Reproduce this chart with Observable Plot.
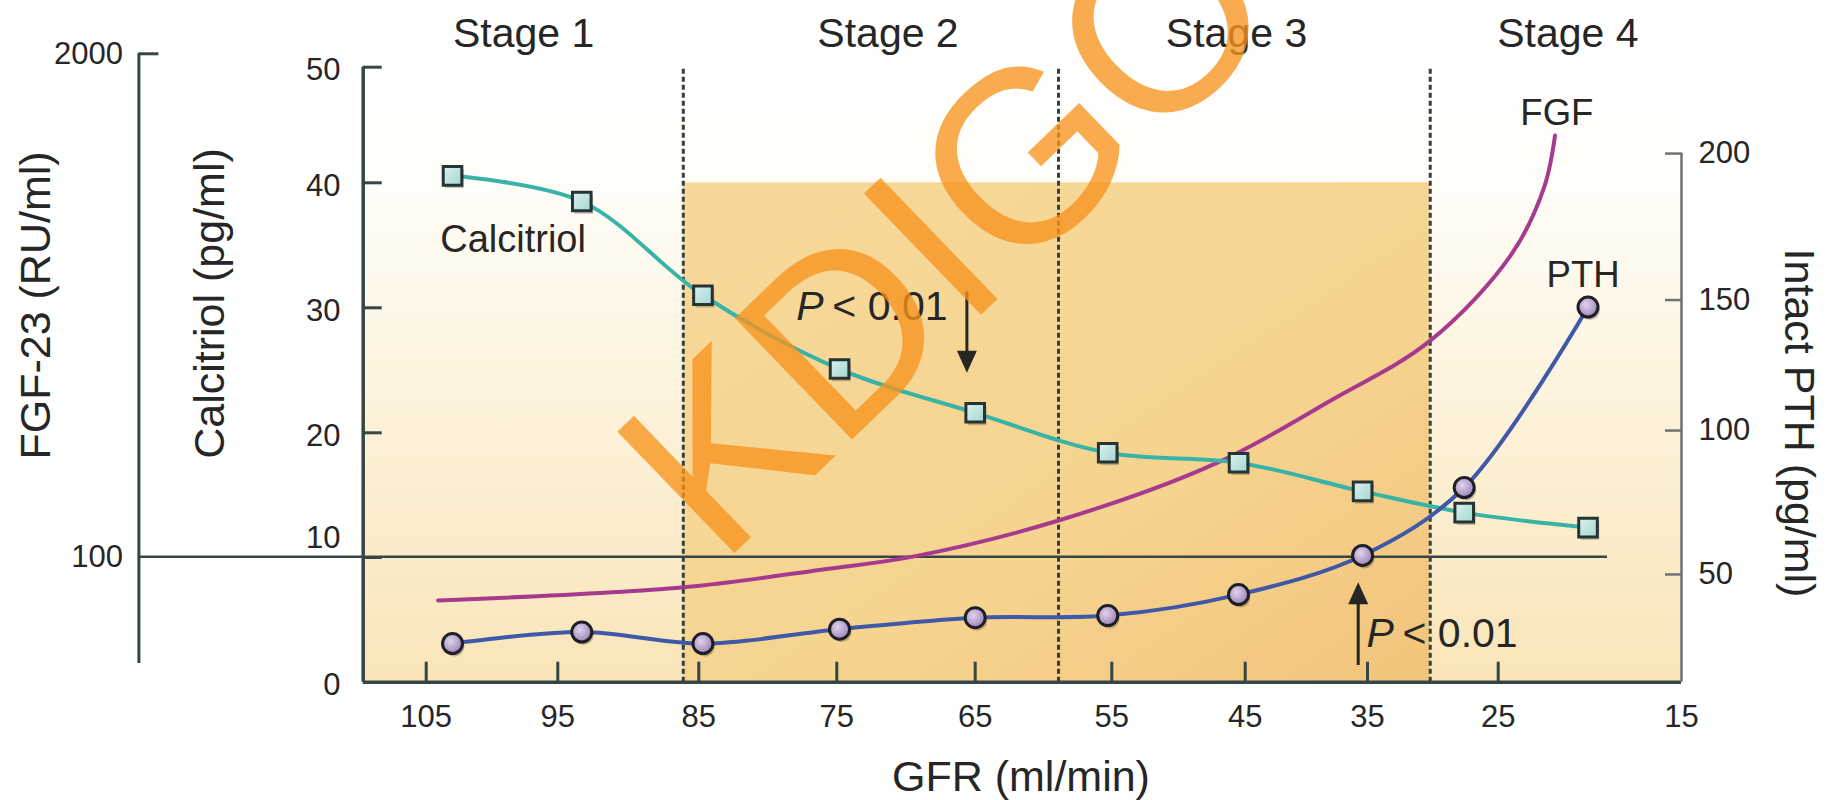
<!DOCTYPE html>
<html>
<head>
<meta charset="utf-8">
<script src="https://cdn.jsdelivr.net/npm/d3@7"></script>
<script src="https://cdn.jsdelivr.net/npm/@observablehq/plot@0.6"></script>
<style>
  html, body { margin: 0; padding: 0; background: #fff; }
  #chart svg { display: block; }
</style>
</head>
<body>
<div id="chart"></div>
<script>
// GFR (ml/min) at which calcitriol and intact PTH were measured
const gfr = [103, 93.3, 84.7, 74.8, 65, 55.3, 45.5, 35.4, 27.6, 20.1];
// Calcitriol (pg/ml)
const calcitriol = [40.6, 38.5, 31, 25.1, 21.6, 18.4, 17.6, 15.3, 13.6, 12.4];
// Intact PTH (pg/ml)
const pth = [26, 30, 26, 31, 35, 35.7, 43, 56.6, 80.2, 147.3];
// FGF-23 trend (RU/ml) along GFR
const fgfGfr = [104.1, 86.1, 76, 69.5, 58.9, 47.2, 38, 30.2, 24.3, 22.5, 21.9];
const fgf = [77.4, 83.6, 92.8, 100, 123.5, 172.5, 249, 353, 582, 862, 1195];

// CKD stages
const stageLabels = ["Stage 1", "Stage 2", "Stage 3", "Stage 4"];
const stageCenters = [97.6, 71.3, 45.65, 21.2];
const stageBounds = [86.1, 58.9, 30.2];

// Tick values
const gfrTicks = [105, 95, 85, 75, 65, 55, 45, 35, 25, 15];
const calcitriolTicks = [0, 10, 20, 30, 40, 50];
const pthTicks = [50, 100, 150, 200];
const fgfTicks = [100, 2000];

// Secondary axes expressed in calcitriol units (the shared y scale)
const pthToC = d3.scaleLinear().domain([50, 100, 150, 200]).range([8.64, 20.18, 30.62, 42.53]);
const fgfToC = d3.scaleLog().domain([100, 2000]).range([10.07, 51.16]);

const calRows = gfr.map((g, i) => ({gfr: g, value: calcitriol[i]}));
const pthRows = gfr.map((g, i) => ({gfr: g, value: pth[i]}));
const fgfRows = fgfGfr.map((g, i) => ({gfr: g, value: fgf[i]}));
const stages = stageLabels.map((label, i) => ({label, gfr: stageCenters[i]}));

const axisColor = "#364545";
const textColor = "#262626";
const fgfAxisOffset = -224.3;

// Filled arrowheads with the tip at the origin
const headDown = {draw(ctx) { ctx.moveTo(0, 0); ctx.lineTo(-10, -22); ctx.lineTo(10, -22); ctx.closePath(); }};
const headUp = {draw(ctx) { ctx.moveTo(0, 0); ctx.lineTo(-10, 22); ctx.lineTo(10, 22); ctx.closePath(); }};

const notes = [{gfr: 77.93, c: 29.0}, {gfr: 35.08, c: 2.81}];
const arrowDown = [{gfr: 65.6, from: 31.26, to: 25.6, tip: 24.8}];
const arrowUp = [{gfr: 35.76, from: 1.34, to: 7.3, tip: 8.02}];

const title = {textAnchor: "middle", lineAnchor: "middle", fontSize: 43, fill: textColor};

const chart = Plot.plot({
  width: 1834,
  height: 800,
  marginTop: 66.7,
  marginBottom: 118.3,
  marginLeft: 362.7,
  marginRight: 153,
  style: {fontFamily: "'Liberation Sans', Arial, Helvetica, sans-serif", fontSize: "31px", color: textColor, background: "#fff"},
  x: {type: "linear", label: null,
      domain: [110, 105, 95, 85, 75, 65, 55, 45, 35, 25, 15],
      range: [362.7, 425.7, 557.3, 698.3, 836.3, 974.7, 1111.3, 1244.7, 1367, 1497.7, 1681]},
  y: {type: "linear", label: null, domain: [0, 20, 40, 50], range: [681.7, 432.3, 182.3, 66.7]},
  marks: [
    // plot-area shading
    Plot.rect([{}], {x1: 110, x2: 15, y1: 0, y2: 51.4, fill: "url(#bgFill)"}),
    Plot.rect([{}], {x1: stageBounds[0], x2: stageBounds[2], y1: 0, y2: 40, fill: "url(#ckdFill)"}),

    // stage boundaries
    Plot.ruleX(stageBounds, {y1: 0, y2: 50, stroke: "#34403f", strokeWidth: 3, strokeDasharray: "5,3"}),

    // FGF-23 = 100 RU/ml reference line
    Plot.ruleY([fgfToC(100)], {x1: 110, x2: 19.04, insetLeft: fgfAxisOffset, stroke: axisColor, strokeWidth: 2.5}),

    // axis lines
    Plot.ruleY([0], {x1: 110, x2: 15, stroke: axisColor, strokeWidth: 3.5}),
    Plot.ruleX([110], {y1: 0, y2: 50, stroke: axisColor, strokeWidth: 3.5}),
    Plot.ruleX([15], {y1: 0, y2: pthToC(200), stroke: "#6e7272", strokeWidth: 2.5}),
    Plot.ruleX([110], {y1: fgfToC(53.5), y2: fgfToC(2000), dx: fgfAxisOffset, stroke: axisColor, strokeWidth: 3}),

    // GFR axis
    Plot.axisX({ticks: gfrTicks.slice(0, -1), tickSize: -20, strokeWidth: 3, stroke: axisColor, fill: "none", label: null}),
    Plot.axisX({ticks: gfrTicks, tickSize: 0, tickPadding: 23, fontSize: 31, fill: textColor, label: null}),

    // calcitriol axis
    Plot.axisY({ticks: calcitriolTicks.slice(1), anchor: "left", tickSize: -19, strokeWidth: 3, stroke: axisColor, fill: "none", label: null}),
    Plot.axisY({ticks: calcitriolTicks.filter(t => t !== 10), anchor: "left", tickSize: 0, tickPadding: 22.7, dy: 3, fontSize: 31, fill: textColor, label: null}),
    Plot.axisY({ticks: [10], anchor: "left", tickSize: 0, tickPadding: 22.7, dy: -19, fontSize: 31, fill: textColor, label: null}),

    // FGF-23 axis
    Plot.axisY({ticks: [fgfToC(2000)], anchor: "left", dx: fgfAxisOffset, tickSize: -20, strokeWidth: 3, stroke: axisColor, fill: "none", label: null}),
    Plot.axisY({ticks: fgfTicks.map(v => fgfToC(v)), anchor: "left", dx: fgfAxisOffset, tickSize: 0, tickPadding: 16,
      tickFormat: d => String(Math.round(fgfToC.invert(d))), fontSize: 31, fill: textColor, label: null}),

    // intact PTH axis
    Plot.axisY({ticks: pthTicks.map(v => pthToC(v)), anchor: "right", tickSize: -17, strokeWidth: 2.5, stroke: "#6e7272", fill: "none", label: null}),
    Plot.axisY({ticks: pthTicks.map(v => pthToC(v)), anchor: "right", tickSize: 0, tickPadding: 17,
      tickFormat: d => String(Math.round(pthToC.invert(d))), fontSize: 31, fill: textColor, label: null}),

    // axis titles
    Plot.text(["FGF-23 (RU/ml)"], {...title, text: d => d, frameAnchor: "top-left", dx: 35.6 - 362.7, dy: 305 - 66.7, rotate: -90}),
    Plot.text(["Calcitriol (pg/ml)"], {...title, text: d => d, frameAnchor: "top-left", dx: 209.6 - 362.7, dy: 303 - 66.7, rotate: -90}),
    Plot.text(["Intact PTH (pg/ml)"], {...title, text: d => d, frameAnchor: "top-right", dx: 116.8, dy: 422.5 - 66.7, rotate: 90}),
    Plot.text(["GFR (ml/min)"], {...title, text: d => d, x: () => 61.65, frameAnchor: "bottom", dy: 108.3, lineAnchor: "bottom"}),

    // stage headings
    Plot.text(stages, {x: "gfr", text: "label", frameAnchor: "top", dy: -20, lineAnchor: "bottom", fontSize: 41, fill: textColor}),

    // series
    Plot.line(fgfRows, {x: "gfr", y: d => fgfToC(d.value), stroke: "#a63a8e", strokeWidth: 4, curve: "catmull-rom"}),
    Plot.line(calRows, {x: "gfr", y: "value", stroke: "#38b3a8", strokeWidth: 4, curve: "catmull-rom"}),
    Plot.line(pthRows, {x: "gfr", y: d => pthToC(d.value), stroke: "#3f59a8", strokeWidth: 4, curve: "catmull-rom"}),

    Plot.dot(calRows, {x: "gfr", y: "value", symbol: "square", r: 10.5, fill: "#000", fillOpacity: 0.22, stroke: "none", dx: 2, dy: 3}),
    Plot.dot(calRows, {x: "gfr", y: "value", symbol: "square", r: 10.5, fill: "url(#calFill)", stroke: "#263434", strokeWidth: 3}),
    Plot.dot(pthRows, {x: "gfr", y: d => pthToC(d.value), r: 10, fill: "#000", fillOpacity: 0.22, stroke: "none", dx: 2, dy: 3}),
    Plot.dot(pthRows, {x: "gfr", y: d => pthToC(d.value), r: 10, fill: "url(#pthFill)", stroke: "#1f1e28", strokeWidth: 3}),

    // series labels
    Plot.text(["Calcitriol"], {text: d => d, x: () => 98.4, y: () => 34.46, lineAnchor: "bottom", fontSize: 38, fill: textColor}),
    Plot.text(["FGF"], {text: d => d, x: () => 21.8, y: () => 45.04, lineAnchor: "bottom", fontSize: 36.5, fill: textColor}),
    Plot.text(["PTH"], {text: d => d, x: () => 20.37, y: () => 31.66, lineAnchor: "bottom", fontSize: 36.5, fill: textColor}),

    // significance notes
    Plot.text(notes, {x: "gfr", y: "c", text: () => "P", fontStyle: "italic", textAnchor: "start", lineAnchor: "bottom", fontSize: 41, fill: textColor}),
    Plot.text(notes, {x: "gfr", y: "c", text: () => "< 0.01", dx: 36, textAnchor: "start", lineAnchor: "bottom", fontSize: 41, fill: textColor}),
    Plot.ruleX(arrowDown, {x: "gfr", y1: "from", y2: "to", stroke: "#262626", strokeWidth: 3}),
    Plot.dot(arrowDown, {x: "gfr", y: "tip", symbol: headDown, r: 8, fill: "#262626", stroke: "none"}),
    Plot.ruleX(arrowUp, {x: "gfr", y1: "from", y2: "to", stroke: "#262626", strokeWidth: 3}),
    Plot.dot(arrowUp, {x: "gfr", y: "tip", symbol: headUp, r: 8, fill: "#262626", stroke: "none"}),

    // watermark
    Plot.text(["KDIGO"], {text: d => d, x: () => 62.9, y: () => 31.2, rotate: -44, textAnchor: "middle", lineAnchor: "bottom",
      fontSize: 245, fill: "#f7931e", fillOpacity: 0.78})
  ]
});

// gradient fills used by the shading and markers
const defs = document.createElementNS("http://www.w3.org/2000/svg", "defs");
defs.innerHTML = `
  <linearGradient id="bgFill" x1="0" y1="0" x2="0" y2="1">
    <stop offset="0" stop-color="#ffffff"/>
    <stop offset="0.22" stop-color="#fffdf8"/>
    <stop offset="0.55" stop-color="#fdf3dc"/>
    <stop offset="1" stop-color="#f9e5b8"/>
  </linearGradient>
  <linearGradient id="ckdFill" x1="0" y1="0" x2="1" y2="1">
    <stop offset="0" stop-color="#f7d99a"/>
    <stop offset="0.6" stop-color="#f6d490"/>
    <stop offset="1" stop-color="#f2c47b"/>
  </linearGradient>
  <linearGradient id="calFill" x1="0" y1="0" x2="1" y2="1">
    <stop offset="0" stop-color="#d9f1ee"/>
    <stop offset="1" stop-color="#a6d6d1"/>
  </linearGradient>
  <radialGradient id="pthFill" cx="0.4" cy="0.38" r="0.65">
    <stop offset="0" stop-color="#e0d3ec"/>
    <stop offset="1" stop-color="#9a82b4"/>
  </radialGradient>`;
chart.insertBefore(defs, chart.firstChild);

document.getElementById("chart").append(chart);
</script>
</body>
</html>
